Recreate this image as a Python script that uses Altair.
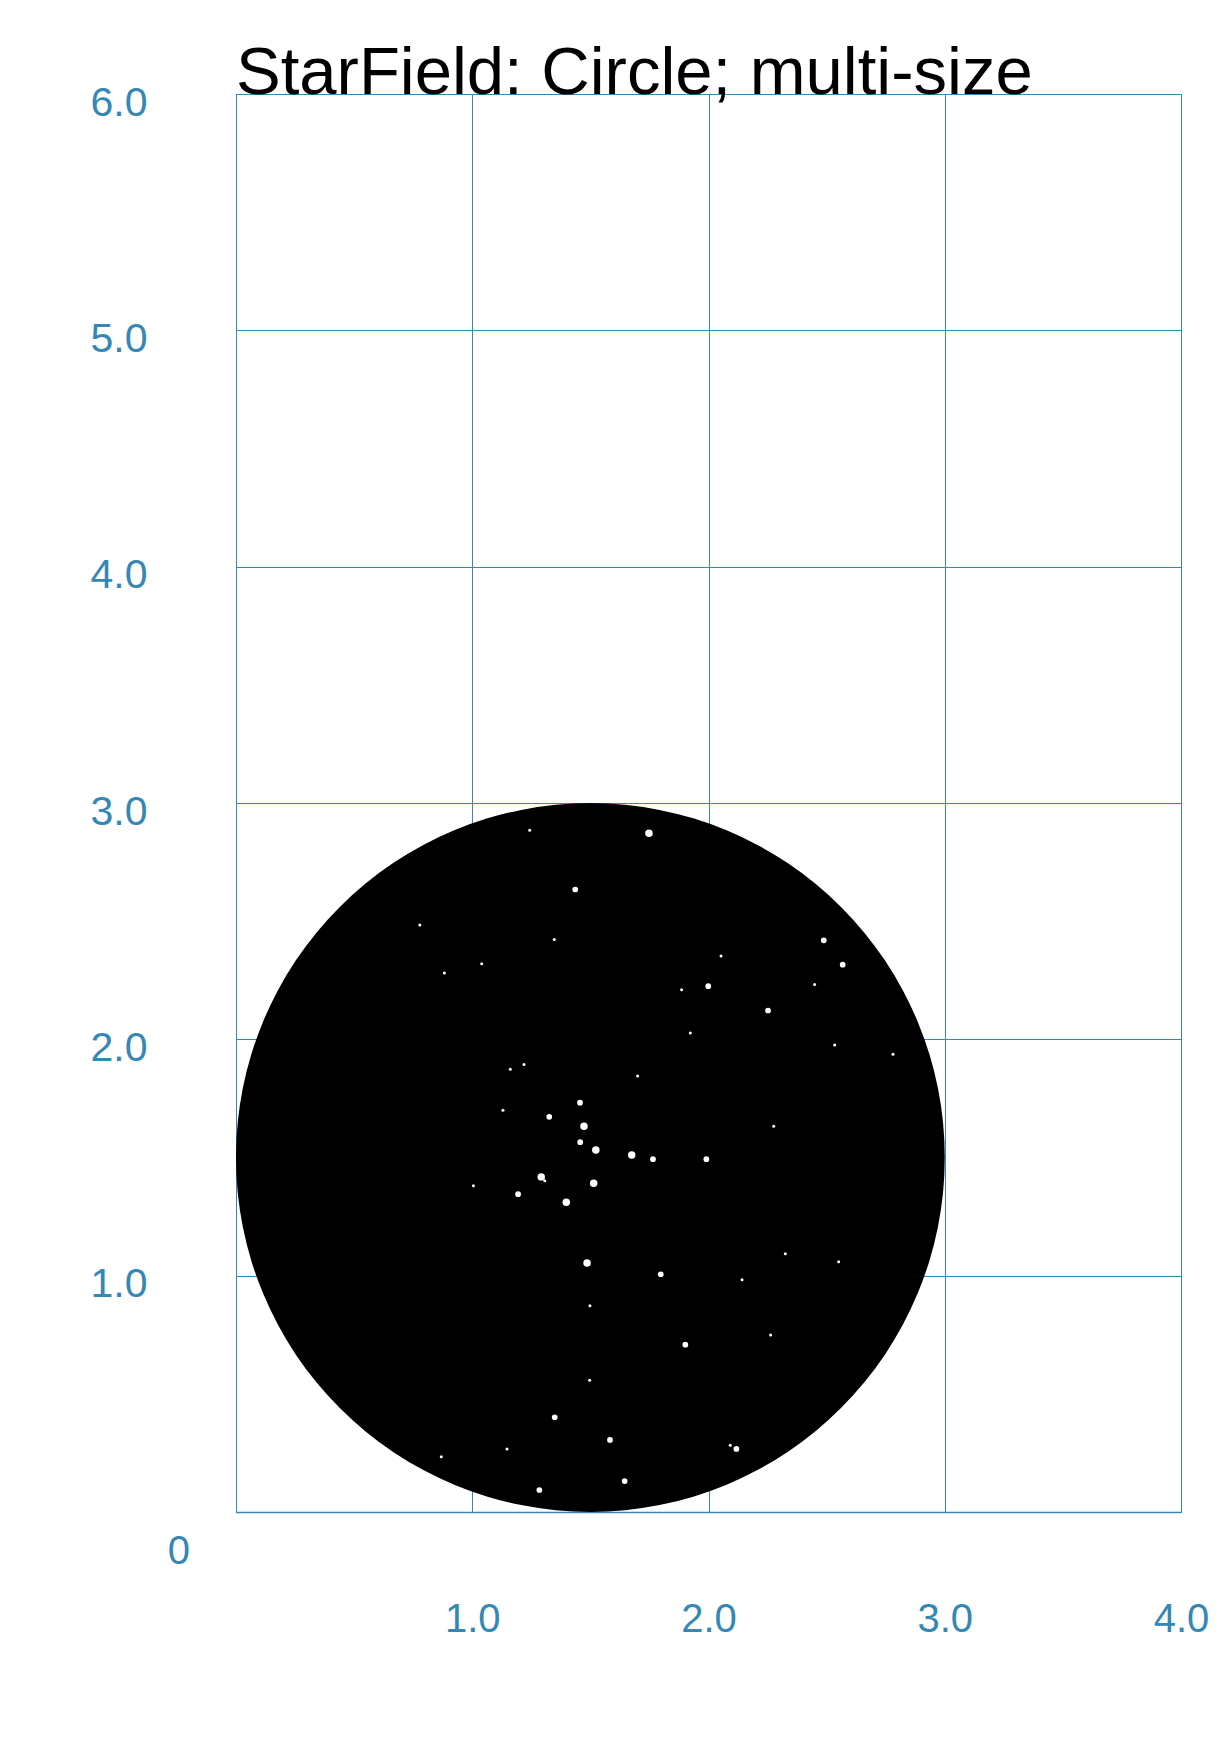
import altair as alt
import pandas as pd

# star field (x, y in data units, mag 1=small .. 3=large)
star_x = [1.243, 1.436, 0.778, 1.347, 1.040, 0.882, 1.219, 1.161, 1.456, 1.130,
          1.326, 1.473, 1.457, 1.523, 1.748, 2.488, 2.053, 2.568, 1.886, 1.999,
          2.449, 2.252, 1.923, 2.534, 2.781, 1.700, 2.276, 1.675, 1.765, 1.991,
          1.292, 1.307, 1.005, 1.194, 1.398, 1.514, 1.486, 1.498, 1.497, 1.349,
          1.147, 0.869, 1.284, 1.798, 2.325, 2.551, 2.142, 1.902, 2.263, 1.583,
          2.092, 2.118, 1.645]
star_y = [2.885, 2.634, 2.484, 2.422, 2.320, 2.281, 1.893, 1.873, 1.732, 1.700,
          1.672, 1.632, 1.565, 1.532, 2.872, 2.419, 2.353, 2.316, 2.210, 2.225,
          2.232, 2.122, 2.027, 1.976, 1.937, 1.845, 1.632, 1.511, 1.493, 1.493,
          1.418, 1.402, 1.380, 1.345, 1.311, 1.391, 1.054, 0.873, 0.557, 0.401,
          0.267, 0.234, 0.093, 1.006, 1.093, 1.059, 0.983, 0.708, 0.749, 0.305,
          0.282, 0.267, 0.131]
star_mag = [1, 2, 1, 1, 1, 1, 1, 1, 2, 1,
            2, 3, 2, 3, 3, 2, 1, 2, 1, 2,
            1, 2, 1, 1, 1, 1, 1, 3, 2, 2,
            3, 1, 1, 2, 3, 3, 3, 1, 1, 2,
            1, 1, 2, 2, 1, 1, 1, 2, 1, 2,
            1, 2, 2]

# the field itself
field_x = [1.5]
field_y = [1.5]

x_ticks = [0, 1, 2, 3, 4]
y_ticks = [0, 1, 2, 3, 4, 5, 6]

BLUE = "#3587b4"
W, H = 945, 1418

stars = pd.DataFrame({"x": star_x, "y": star_y, "mag": star_mag})
field = pd.DataFrame({"x": field_x, "y": field_y})
origin = pd.DataFrame({"x": [0], "y": [0], "label": ["0"]})

x_enc = alt.X("x:Q", scale=alt.Scale(domain=[0, 4], nice=False),
              axis=alt.Axis(values=x_ticks, title=None, ticks=False, labelFlush=False,
                            labelExpr="datum.value == 0 ? '' : format(datum.value, '.1f')",
                            labelFontSize=40, labelColor=BLUE, labelPadding=87,
                            labelBaseline="top", labelFont="Liberation Sans",
                            domainColor=BLUE, domainWidth=1.5,
                            gridColor=BLUE, gridWidth=1, gridOpacity=1))
y_enc = alt.Y("y:Q", scale=alt.Scale(domain=[0, 6], nice=False),
              axis=alt.Axis(values=y_ticks, title=None, ticks=False, labelFlush=False,
                            labelExpr="datum.value == 0 ? '' : format(datum.value, '.1f')",
                            labelFontSize=41, labelColor=BLUE, labelPadding=89,
                            labelOffset=9, labelBaseline="middle",
                            labelFont="Liberation Sans",
                            domainColor=BLUE, domainWidth=1,
                            gridColor=BLUE, gridWidth=1, gridOpacity=1))

disc = alt.Chart(field).mark_circle(color="black", opacity=1).encode(
    x=x_enc, y=y_enc, size=alt.value(502400)
)

dots = alt.Chart(stars).mark_circle(color="white", opacity=1).encode(
    x="x:Q",
    y="y:Q",
    size=alt.Size("mag:Q", scale=alt.Scale(domain=[1, 3], range=[9, 56]), legend=None),
)

zero = alt.Chart(origin).mark_text(
    align="right", baseline="middle", dx=-46, dy=40,
    fontSize=40, font="Liberation Sans", color=BLUE
).encode(x="x:Q", y="y:Q", text="label:N")

chart = alt.layer(disc, dots, zero).properties(
    width=W, height=H,
    title=alt.TitleParams("StarField: Circle; multi-size", anchor="start", frame="group",
                          fontSize=67, font="Liberation Sans", fontWeight="normal",
                          color="black", baseline="alphabetic", offset=1, dy=80),
    autosize=alt.AutoSizeParams(type="none"),
    padding={"left": 228, "top": 86, "right": 40, "bottom": 220},
).configure_view(strokeWidth=0)

chart.save("out.html", embed_options={"renderer": "svg", "actions": False})
